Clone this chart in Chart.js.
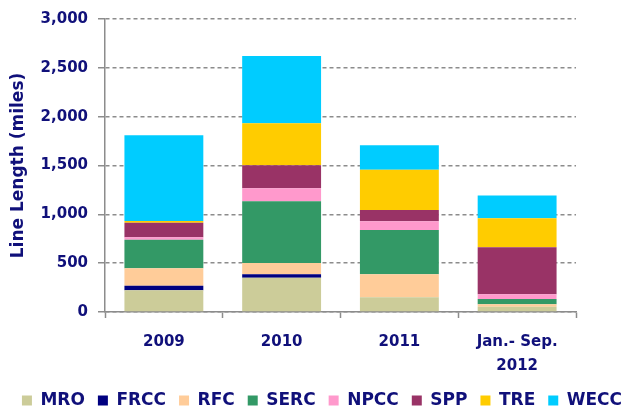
<!DOCTYPE html>
<html>
<head>
<meta charset="utf-8">
<script src="https://cdn.jsdelivr.net/npm/chart.js@4/dist/chart.umd.min.js"></script>
<style>
  body { margin: 0; background: #fff; }
  #wrap { width: 644px; height: 413px; }
</style>
</head>
<body>
<div id="wrap"><canvas id="myChart" width="644" height="413"></canvas></div>
<script>
var years = ['2009', '2010', '2011', ['Jan.- Sep.', '2012']];
var regiones = ['MRO', 'FRCC', 'RFC', 'SERC', 'NPCC', 'SPP', 'TRE', 'WECC'];
var colores = ['#CCCC99', '#000080', '#FFCC99', '#339966', '#FF99CC', '#993366', '#FFCC00', '#00CCFF'];

// miles per region, one value per year
var mro  = [222, 351, 150, 54];
var frcc = [48, 35, 0, 0];
var rfc  = [177, 116, 236, 25];
var serc = [293, 632, 454, 55];
var npcc = [25, 133, 89, 48];
var spp  = [150, 235, 115, 481];
var tre  = [17, 430, 413, 297];
var wecc = [878, 689, 250, 232];

var yTicks = [0, 500, 1000, 1500, 2000, 2500, 3000];

var navy = '#10107a';
var gris = '#8c8c8c';
var series = [mro, frcc, rfc, serc, npcc, spp, tre, wecc];

var datasets = [];
for (var i = 0; i < regiones.length; i++) {
  datasets.push({
    label: regiones[i],
    data: series[i],
    backgroundColor: colores[i],
    borderWidth: 0,
    barPercentage: 0.67,
    categoryPercentage: 1
  });
}

// baja un poco la leyenda
var bajarLeyenda = {
  id: 'bajarLeyenda',
  afterLayout: function(chart) {
    chart.legend.top += 6;
    chart.legend.bottom += 6;
  }
};

var ctx = document.getElementById('myChart').getContext('2d');
var chart = new Chart(ctx, {
  type: 'bar',
  data: { labels: years, datasets: datasets },
  plugins: [bajarLeyenda],
  options: {
    responsive: false,
    animation: false,
    layout: { padding: { left: 0, right: 0, top: 15, bottom: 0 } },
    plugins: {
      tooltip: { enabled: false },
      legend: {
        position: 'bottom',
        labels: {
          boxWidth: 10,
          boxHeight: 10,
          padding: 13,
          color: navy,
          font: { family: 'DejaVu Sans', size: 17, weight: 'bold' }
        }
      }
    },
    scales: {
      x: {
        stacked: true,
        grid: { display: true, drawOnChartArea: false, offset: true, tickLength: 6, tickWidth: 1.5, color: gris, tickColor: gris },
        border: { display: true, color: gris, width: 1.5 },
        ticks: {
          color: navy,
          padding: 12,
          maxRotation: 0,
          font: { family: 'DejaVu Sans', size: 15, weight: 'bold', lineHeight: 1.6 }
        },
        afterFit: function(scale) { scale.height = 61; }
      },
      y: {
        stacked: true,
        min: yTicks[0],
        max: yTicks[yTicks.length - 1],
        grid: {
          display: true,
          drawOnChartArea: true,
          color: gris,
          lineWidth: 1.5,
          tickColor: gris,
          tickWidth: 1.5,
          tickLength: 7,
          tickBorderDash: []
        },
        border: { display: true, color: gris, width: 1.5, dash: [4, 3] },
        ticks: {
          stepSize: yTicks[1] - yTicks[0],
          color: navy,
          padding: 10,
          font: { family: 'DejaVu Sans', size: 15, weight: 'bold' },
          callback: function(v) { return v.toLocaleString('en-US'); }
        },
        title: {
          display: true,
          text: 'Line Length (miles)',
          color: navy,
          padding: { top: 8, bottom: 0 },
          font: { family: 'DejaVu Sans', size: 17, weight: 'bold', lineHeight: 1.2 }
        },
        afterFit: function(scale) { scale.width = 105; }
      },
      // eje vacio a la derecha, solo para dejar el hueco
      derecha: {
        position: 'right',
        display: true,
        grid: { display: false },
        border: { display: false },
        ticks: { display: false },
        afterFit: function(scale) { scale.width = 68; }
      }
    }
  }
});
</script>
</body>
</html>
